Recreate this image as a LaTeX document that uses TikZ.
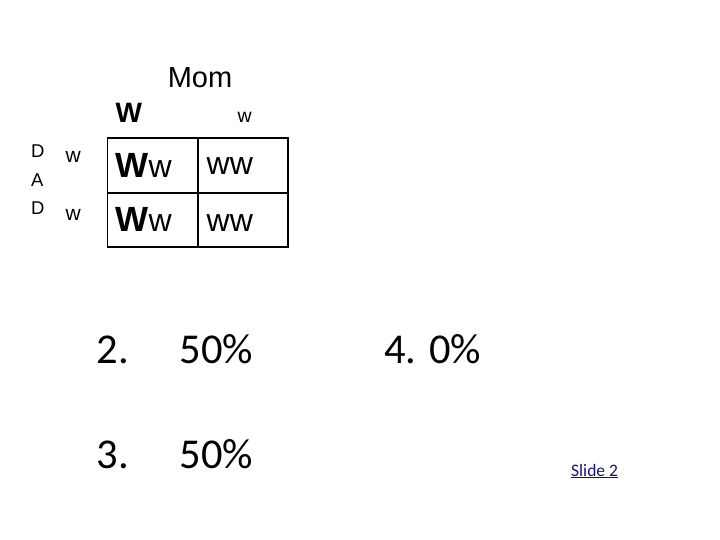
\documentclass[tikz,border=0pt]{standalone}
\usepackage{fontspec}
\setmainfont{Liberation Sans}
\newfontfamily\calib{Carlito}
\definecolor{linkblue}{RGB}{20,20,120}
\begin{document}
\begin{tikzpicture}[x=1pt,y=-1pt,
  lbl/.style={inner sep=0pt, anchor=base west},
  grid/.style={line width=1.8pt},
  cal/.style={inner sep=0pt, anchor=base west, font=\calib\fontsize{42.5}{42.5}\selectfont}]
\useasboundingbox (0,0) rectangle (720,540);
\fill[white] (0,0) rectangle (720,540);
% grid
\coordinate (g1) at (107.5,137.7);
\coordinate (g2) at (288,246.8);
\draw[grid] (g1) rectangle (g2);
\draw[grid] (197.7,137.7) coordinate (vt) -- (197.7,246.8) coordinate (vb);
\draw[grid] (107.5,192.7) coordinate (hl) -- (288,192.7) coordinate (hr);
% headers
\node[inner sep=0pt, anchor=base, font=\fontsize{29}{29}\selectfont] (mom) at (200,88) {Mom};
\node[lbl, font=\bfseries\fontsize{28}{28}\selectfont] (hW) at (115.5,123) {W};
\node[lbl, font=\fontsize{19.5}{19.5}\selectfont] (hw) at (237.5,123) {w};
\node[lbl, font=\fontsize{18.5}{18.5}\selectfont] (d1) at (31,157.5) {D};
\node[lbl, font=\fontsize{18.5}{18.5}\selectfont] (a1) at (31,186.5) {A};
\node[lbl, font=\fontsize{18.5}{18.5}\selectfont] (d2) at (31,214.5) {D};
\node[lbl, font=\fontsize{21}{21}\selectfont] (w1) at (65.5,163) {w};
\node[lbl, font=\fontsize{21}{21}\selectfont] (w2) at (65.5,221) {w};
% cells
\node[lbl] (c11) at (115.5,178) {{\bfseries\fontsize{35}{35}\selectfont W}{\fontsize{32}{32}\selectfont w}};
\node[lbl] (c12) at (206.5,175) {\fontsize{32}{32}\selectfont ww};
\node[lbl] (c21) at (115.5,231) {{\bfseries\fontsize{35}{35}\selectfont W}{\fontsize{32}{32}\selectfont w}};
\node[lbl] (c22) at (206.5,231.5) {\fontsize{32}{32}\selectfont ww};
% answers
\node[cal] (n2) at (96.5,363) {2.};
\node[cal] (p2) at (179.5,363) {50\%};
\node[cal] (n4) at (384,363) {4. 0\%};
\node[cal] (n3) at (96.5,468) {3.};
\node[cal] (p3) at (179.5,468) {50\%};
\node[inner sep=0pt, anchor=base west, text=linkblue, font=\calib\fontsize{17.5}{17.5}\selectfont] (slide) at (571,476) {\underline{Slide 2}};
\end{tikzpicture}
\end{document}
